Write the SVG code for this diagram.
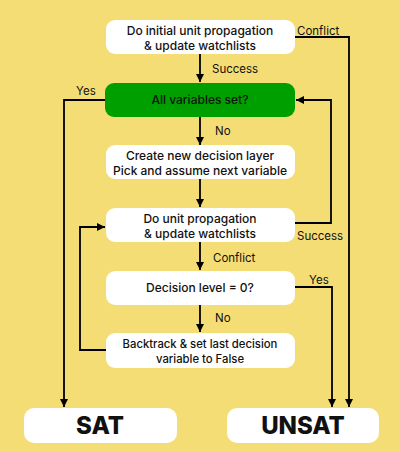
<svg xmlns="http://www.w3.org/2000/svg" width="400" height="452" viewBox="0 0 400 452">
<defs>
<marker id="ah" viewBox="0 0 10 10" refX="10" refY="5" markerWidth="8" markerHeight="8" markerUnits="userSpaceOnUse" orient="auto"><path d="M0,0 L10,5 L0,10 z" fill="#000"/></marker>
<style>
.box{fill:#fff}
.green{fill:#009f00}
.t{font-family:Inter,"Noto Sans",sans-serif;font-size:12px;font-weight:500;fill:#111;text-anchor:middle}
.s{font-size:11.3px}
.lbl{font-family:Inter,"Noto Sans",sans-serif;font-size:11.5px;font-weight:400;fill:#111}
.big{font-family:Inter,"Noto Sans",sans-serif;font-size:24px;font-weight:800;fill:#111;text-anchor:middle}
.c{fill:none;stroke:#000;stroke-width:1.8}
</style>
</defs>
<rect width="400" height="452" fill="#f3dd74"/>
<g id="connectors">
<path class="c" d="M200,54 V82" marker-end="url(#ah)"/>
<path class="c" d="M200,117 V145" marker-end="url(#ah)"/>
<path class="c" d="M200,179 V207" marker-end="url(#ah)"/>
<path class="c" d="M200,242 V270" marker-end="url(#ah)"/>
<path class="c" d="M200,305 V332" marker-end="url(#ah)"/>
<path class="c" d="M106,100 H64 V407" marker-end="url(#ah)"/>
<path class="c" d="M295,223 H331 V100 H296" marker-end="url(#ah)"/>
<path class="c" d="M295,37 H349 V407" marker-end="url(#ah)"/>
<path class="c" d="M295,287 H332 V407" marker-end="url(#ah)"/>
<path class="c" d="M106,350 H80 V227 H105" marker-end="url(#ah)"/>
<text class="lbl" x="212" y="73">Success</text>
<text class="lbl" x="76" y="95">Yes</text>
<text class="lbl" x="215" y="135">No</text>
<text class="lbl" x="297" y="240">Success</text>
<text class="lbl" x="297" y="35">Conflict</text>
<text class="lbl" x="213" y="262">Conflict</text>
<text class="lbl" x="309" y="284">Yes</text>
<text class="lbl" x="215" y="322">No</text>
</g>
<g id="init"><rect class="box" x="106" y="20" width="189" height="34" rx="9"/><text class="t" x="200" y="35">Do initial unit propagation</text><text class="t" x="200" y="50">&amp; update watchlists</text></g>
<g id="allset"><rect class="green" x="105" y="83" width="190" height="34" rx="9"/><text class="t" x="200" y="104">All variables set?</text></g>
<g id="decide"><rect class="box" x="106" y="145" width="189" height="34" rx="9"/><text class="t" x="200" y="160">Create new decision layer</text><text class="t" x="200" y="175">Pick and assume next variable</text></g>
<g id="prop"><rect class="box" x="106" y="208" width="189" height="34" rx="9"/><text class="t" x="200" y="223">Do unit propagation</text><text class="t" x="200" y="238">&amp; update watchlists</text></g>
<g id="level"><rect class="box" x="106" y="271" width="189" height="34" rx="9"/><text class="t" x="200" y="292">Decision level = 0?</text></g>
<g id="backtrack"><rect class="box" x="106" y="333" width="189" height="35" rx="9"/><text class="t s" x="200" y="348">Backtrack &amp; set last decision</text><text class="t s" x="200" y="363">variable to False</text></g>
<g id="sat"><rect class="box" x="24" y="408" width="153" height="35" rx="10"/><text class="big" x="100" y="434">SAT</text></g>
<g id="unsat"><rect class="box" x="227" y="408" width="152" height="35" rx="10"/><text class="big" x="303" y="434">UNSAT</text></g>
</svg>
